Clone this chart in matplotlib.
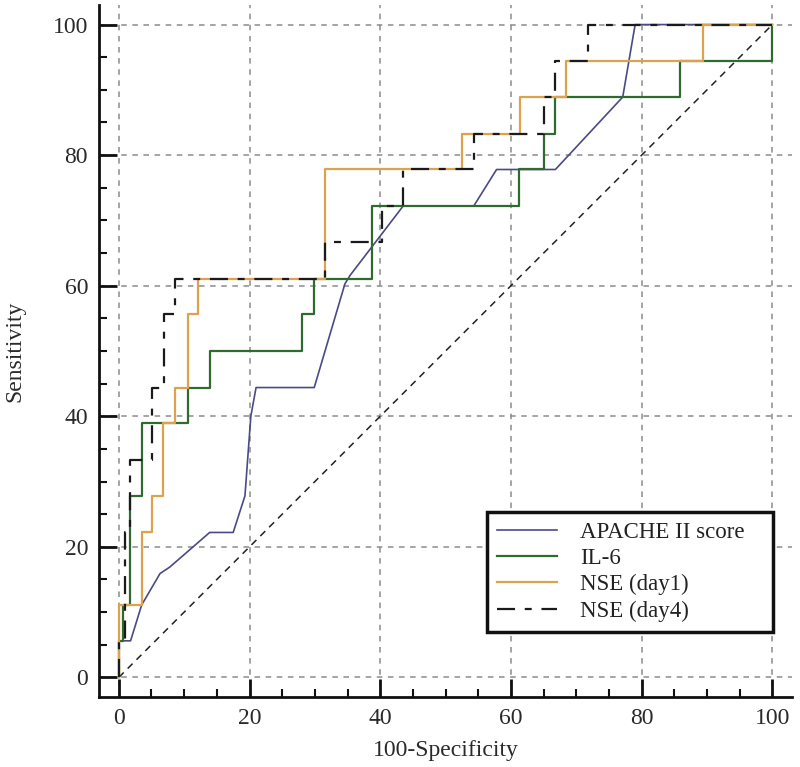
import matplotlib
matplotlib.use("Agg")
import matplotlib.pyplot as plt
from matplotlib.ticker import MultipleLocator

plt.rcParams['font.family'] = ['Liberation Serif', 'DejaVu Serif']
plt.rcParams['lines.scale_dashes'] = False

# ---- data (100-Specificity, Sensitivity) ----
apache_x = [0, 0, 1.8, 3.5, 6.3, 7.8, 13.9, 17.5, 19.3, 20.2, 21.0, 29.9, 34.6, 35.4, 43.5, 54.3, 57.8, 66.8, 77.1, 79.0, 100]
apache_y = [0, 5.6, 5.6, 11.1, 15.9, 16.9, 22.2, 22.2, 27.8, 40.0, 44.4, 44.4, 60.3, 61.6, 72.2, 72.2, 77.8, 77.8, 88.9, 100, 100]

il6_x = [0, 0, 0.7, 1.7, 3.5, 10.6, 13.9, 28.1, 29.8, 38.7, 61.3, 65.0, 66.8, 85.9, 100, 100]
il6_y = [0, 5.6, 11.1, 27.8, 38.9, 44.4, 50.0, 55.6, 61.1, 72.2, 77.8, 83.3, 88.9, 94.4, 100, 100]

nse1_x = [0, 0, 3.5, 5.1, 6.8, 8.6, 10.6, 12.1, 31.5, 52.5, 61.4, 68.4, 89.4, 100]
nse1_y = [0, 11.1, 22.2, 27.8, 38.9, 44.4, 55.6, 61.1, 77.8, 83.3, 88.9, 94.4, 100, 100]

nse4_x = [0, 0, 1.0, 1.7, 5.1, 6.9, 8.6, 31.5, 40.2, 43.5, 54.3, 65.0, 66.8, 71.8, 100]
nse4_y = [0, 5.6, 22.2, 33.3, 44.4, 55.6, 61.1, 66.7, 72.2, 77.8, 83.3, 88.9, 94.4, 100, 100]

labels = ['APACHE II score', 'IL-6', 'NSE (day1)', 'NSE (day4)']
colors = ['#4a4a86', '#2f6a2f', '#dca24e', '#1a1a1a']

fig = plt.figure(figsize=(8.0, 7.67), dpi=100)
ax = fig.add_axes([0.124, 0.0913, 0.866, 0.9022])

ax.set_xlim(-3, 103)
ax.set_ylim(-3, 103)

# grid
for v in range(0, 101, 20):
    ax.axvline(v, color='#8c8c8c', lw=1.1, ls=(0, (4, 4)), zorder=0)
    ax.axhline(v, color='#8c8c8c', lw=1.1, ls=(0, (4, 4)), zorder=0)

# diagonal reference
ax.plot([0, 100], [0, 100], color='#222222', lw=1.1, ls=(0, (5, 4)), zorder=1)

ax.plot(apache_x, apache_y, color=colors[0], lw=1.2, label=labels[0], zorder=3)
ax.plot(il6_x, il6_y, color=colors[1], lw=1.6, drawstyle='steps-post', label=labels[1], zorder=3)
ax.plot(nse1_x, nse1_y, color=colors[2], lw=1.6, drawstyle='steps-post', label=labels[2], zorder=3)
ax.plot(nse4_x, nse4_y, color=colors[3], lw=1.6, drawstyle='steps-post',
        ls=(0, (13, 7, 5, 7)), label=labels[3], zorder=4)

# spines
for s in ['top', 'right']:
    ax.spines[s].set_visible(False)
for s in ['left', 'bottom']:
    ax.spines[s].set_linewidth(2.0)
    ax.spines[s].set_color('#111111')

ax.xaxis.set_major_locator(MultipleLocator(20))
ax.xaxis.set_minor_locator(MultipleLocator(5))
ax.yaxis.set_major_locator(MultipleLocator(20))
ax.yaxis.set_minor_locator(MultipleLocator(5))
ax.tick_params(which='major', direction='in', length=13, width=2.0, labelsize=17, pad=8, colors='#111111')
ax.tick_params(which='minor', direction='in', length=6, width=1.5, colors='#111111')
ax.tick_params(axis='both', labelcolor='#2a2a2a')

ax.set_xlabel('100-Specificity', fontsize=17, color='#2a2a2a', labelpad=8)
ax.set_ylabel('Sensitivity', fontsize=17, color='#2a2a2a', va='center')
ax.yaxis.set_label_coords(-0.121, 0.5)

leg = ax.legend(loc='lower left', bbox_to_anchor=(0.56, 0.094, 0.413, 0.18), mode='expand',
                fontsize=16.5, frameon=True, fancybox=False, framealpha=1, edgecolor='#111111',
                handlelength=2.6, labelspacing=0.22, borderpad=0.45, handletextpad=1.0,
                borderaxespad=0)
leg.get_frame().set_linewidth(2.5)
for t in leg.get_texts():
    t.set_color('#222222')

fig.savefig('out.png', dpi=100)
